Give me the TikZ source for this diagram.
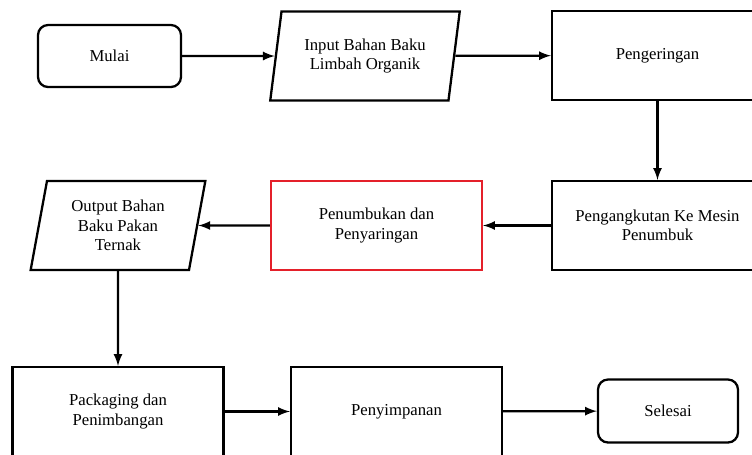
\documentclass[tikz,border=0pt]{standalone}
\usepackage{fontspec}
\setmainfont{Liberation Serif}
\usepackage{xcolor}
\usetikzlibrary{arrows,shapes}
\definecolor{boxred}{RGB}{228,32,42}

\begin{document}
\begin{tikzpicture}[x=0.02cm, y=-0.02cm, line width=1.3pt, font=\fontsize{9.5}{11}\selectfont,
term node/.style={rectangle, rounded corners=0.2cm, draw, minimum width=2.86cm, minimum height=1.24cm},
proc node/.style={rectangle, draw, minimum width=4.22cm, minimum height=1.78cm, align=center},
io node/.style={trapezium, trapezium left angle=79, trapezium right angle=101, trapezium stretches=true, draw, minimum height=1.78cm, align=center}]
\useasboundingbox (0,0) rectangle (752,454);
\clip (0,0) rectangle (752,454);
\node[term node] (1) at (109.5,56) {Mulai};
\node[io node, minimum width=3.8cm] (2) at (365,56) {Input Bahan Baku\\Limbah Organik};
\node[proc node] (3) at (657.5,55.5) {Pengeringan};
\node[proc node] (4) at (657.5,225.5) {Pengangkutan Ke Mesin\\Penumbuk};
\node[proc node, draw=boxred] (5) at (376.5,225.5) {Penumbukan dan\\Penyaringan};
\node[io node, minimum width=3.5cm] (6) at (118,225.5) {Output Bahan\\Baku Pakan\\Ternak};
\node[proc node] (7) at (118,411.5) {Packaging dan\\Penimbangan};
\node[proc node] (8) at (396.5,411.5) {Penyimpanan};
\node[term node, minimum width=2.8cm, minimum height=1.26cm] (9) at (668,411) {Selesai};
\path[-latex]
(1) edge (2)
(2) edge (3)
(3) edge (4)
(4) edge (5)
(5) edge (6)
(6) edge (7)
(7) edge (8)
(8) edge (9);
\end{tikzpicture}
\end{document}
